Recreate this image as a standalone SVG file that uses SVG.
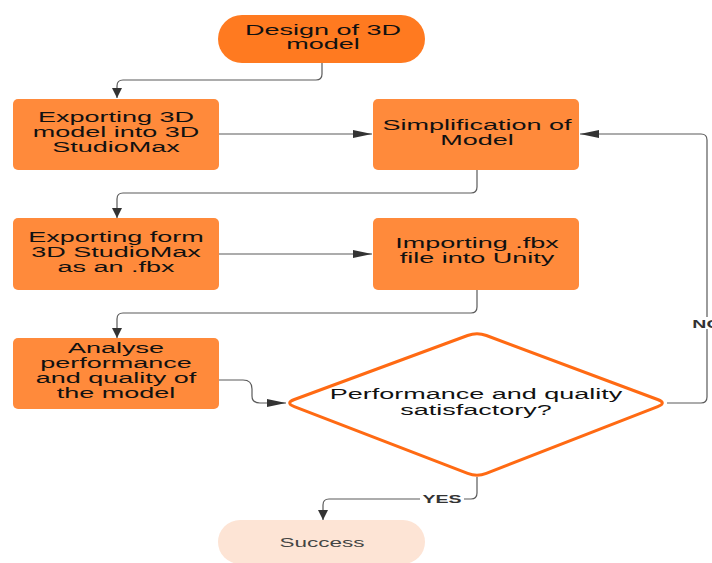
<svg xmlns="http://www.w3.org/2000/svg" width="712" height="563" viewBox="0 0 712 563">
<defs>
<style>
.box{fill:#FF8A3B;}
.start{fill:#FF7A20;}
.t{font-family:"Liberation Sans",Arial,sans-serif;font-size:15px;fill:#111;text-anchor:middle;}
.lbl{font-family:"Liberation Sans",Arial,sans-serif;font-size:11.5px;font-weight:bold;fill:#333;text-anchor:middle;}
.ln{fill:none;stroke:#5a5a5a;stroke-width:1.2;}
</style>
<marker id="aH" markerUnits="userSpaceOnUse" markerWidth="20" markerHeight="10" refX="19" refY="4" orient="auto"><path d="M0,0 L19,4 L0,8 Z" fill="#333"/></marker>
<marker id="aV" markerUnits="userSpaceOnUse" markerWidth="12" markerHeight="12" refX="10" refY="5" orient="auto"><path d="M0,0 L10,5 L0,10 Z" fill="#333"/></marker>
</defs>
<rect width="712" height="563" fill="#fff"/>
<g id="connectors">
<path class="ln" d="M322,63 V74 Q322,80 316,80 H123 Q117,80 117,86 V98" marker-end="url(#aV)"/>
<path class="ln" d="M219,134 H372" marker-end="url(#aH)"/>
<path class="ln" d="M477,170 V187 Q477,193 471,193 H123 Q117,193 117,199 V218" marker-end="url(#aV)"/>
<path class="ln" d="M219,254 H372" marker-end="url(#aH)"/>
<path class="ln" d="M477,290 V307 Q477,313 471,313 H123 Q117,313 117,319 V338" marker-end="url(#aV)"/>
<path class="ln" d="M219,380 H243 Q252,380 252,389 V396 Q252,403 260,403 H286" marker-end="url(#aH)"/>
<path class="ln" d="M667,403 H701 Q707,403 707,397 V140 Q707,134 701,134 H580" marker-end="url(#aH)"/>
<path class="ln" d="M477,477 V493 Q477,499 471,499 H329 Q323,499 323,505 V520" marker-end="url(#aV)"/>
<rect x="693" y="317" width="19" height="12" fill="#fff"/>
<text class="lbl" transform="translate(707,328) scale(1.7,1)">NO</text>
<rect x="420" y="491" width="44" height="13" fill="#fff"/>
<text class="lbl" transform="translate(442,503) scale(1.7,1)">YES</text>
</g>
<g id="design">
<rect class="start" x="218" y="15" width="207" height="48" rx="24"/>
<text class="t" transform="translate(323,35) scale(1.8,1)"><tspan x="0">Design of 3D</tspan><tspan x="0" dy="14.5">model</tspan></text>
</g>
<g id="export3d">
<rect class="box" x="13" y="99" width="206" height="71" rx="5"/>
<text class="t" transform="translate(116,122) scale(1.8,1)"><tspan x="0">Exporting 3D</tspan><tspan x="0" dy="15">model into 3D</tspan><tspan x="0" dy="15">StudioMax</tspan></text>
</g>
<g id="simplify">
<rect class="box" x="373" y="99" width="206" height="71" rx="5"/>
<text class="t" transform="translate(477,130) scale(1.8,1)"><tspan x="0">Simplification of</tspan><tspan x="0" dy="15">Model</tspan></text>
</g>
<g id="exportfbx">
<rect class="box" x="13" y="218" width="206" height="72" rx="5"/>
<text class="t" transform="translate(116,242) scale(1.8,1)"><tspan x="0">Exporting form</tspan><tspan x="0" dy="15">3D StudioMax</tspan><tspan x="0" dy="15">as an .fbx</tspan></text>
</g>
<g id="import">
<rect class="box" x="373" y="218" width="206" height="72" rx="5"/>
<text class="t" transform="translate(477,248) scale(1.8,1)"><tspan x="0">Importing .fbx</tspan><tspan x="0" dy="15">file into Unity</tspan></text>
</g>
<g id="analyse">
<rect class="box" x="13" y="338" width="206" height="71" rx="5"/>
<text class="t" transform="translate(116,353) scale(1.8,1)"><tspan x="0">Analyse</tspan><tspan x="0" dy="15">performance</tspan><tspan x="0" dy="15">and quality of</tspan><tspan x="0" dy="15">the model</tspan></text>
</g>
<g id="decision">
<path d="M294.4,399.5 L467.6,335.5 Q477,332 486.4,335.5 L657.6,399.5 Q667,403 657.7,406.6 L486.3,473.4 Q477,477 467.7,473.4 L294.3,406.6 Q285,403 294.4,399.5 Z" fill="#fff" stroke="#FF6A13" stroke-width="3"/>
<text class="t" transform="translate(476,399) scale(1.8,1)"><tspan x="0">Performance and quality</tspan><tspan x="0" dy="16">satisfactory?</tspan></text>
</g>
<g id="success">
<rect x="218" y="520" width="207" height="44" rx="22" fill="#FDE4D5"/>
<text class="t" style="font-size:12.5px;fill:#444" transform="translate(322,547) scale(1.8,1)">Success</text>
</g>
</svg>
